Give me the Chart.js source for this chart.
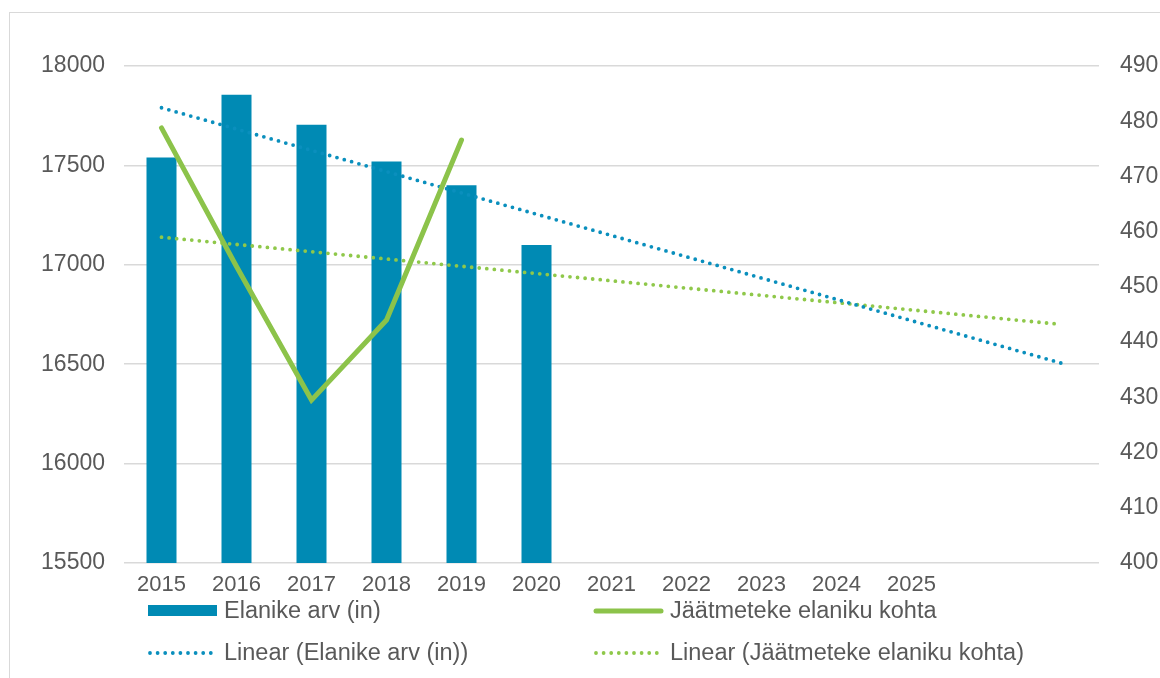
<!DOCTYPE html>
<html>
<head>
<meta charset="utf-8">
<script src="https://cdn.jsdelivr.net/npm/chart.js@4"></script>
<style>
  html, body { margin: 0; padding: 0; background: #fff; }
  #frame { position: absolute; left: 9px; top: 12px; width: 1200px; height: 720px; border: 1px solid #d9d9d9; }
  #wrap { position: absolute; left: 0; top: 0; width: 1160px; height: 678px; }
</style>
</head>
<body>
<div id="frame"></div>
<div id="wrap"><canvas id="chart" width="1160" height="678"></canvas></div>
<script>
  // Years on the category axis (two trailing blank slots for the trend forecast)
  const years = ["2015", "2016", "2017", "2018", "2019", "2020", "2021", "2022", "2023", "2024", "2025", "", ""];
  // Elanike arv (in) — left axis
  const population = [17540, 17855, 17705, 17520, 17400, 17100];
  // Jäätmeteke elaniku kohta — right axis
  const wastePerCapita = [478.8, 453.7, 429.5, 444.0, 476.6];
  // Linear trend end points (first and last category)
  const popTrend = [17790, null, null, null, null, null, null, null, null, null, null, null, 16505];
  const wasteTrend = [459.0, null, null, null, null, null, null, null, null, null, null, null, 443.2];

  const leftTicks = { min: 15500, max: 18000, step: 500 };
  const rightTicks = { min: 400, max: 490, step: 10 };

  const COLORS = {
    bar: "#008ab4",
    line: "#8cc34a",
    popTrend: "#0a8fbd",
    wasteTrend: "#8fc84a",
    grid: "#d9d9d9",
    text: "#595959",
  };
  const FONT = "'Liberation Sans', Arial, sans-serif";

  // Two-column legend drawn under the plot
  const gridLegend = {
    id: "gridLegend",
    afterDraw(chart) {
      const { ctx } = chart;
      const ds = chart.data.datasets;
      const slots = [
        { i: 0, x: 148, y: 611 },
        { i: 1, x: 594, y: 611 },
        { i: 2, x: 148, y: 653 },
        { i: 3, x: 594, y: 653 },
      ];
      ctx.save();
      ctx.font = "23.5px " + FONT;
      ctx.textBaseline = "middle";
      slots.forEach((s) => {
        const d = ds[s.i];
        const w = 69;
        if (d.type === "bar") {
          ctx.fillStyle = d.backgroundColor;
          ctx.fillRect(s.x, s.y - 6, w, 11);
        } else {
          ctx.beginPath();
          ctx.strokeStyle = d.borderColor;
          ctx.lineWidth = d.borderWidth;
          ctx.lineCap = "round";
          ctx.setLineDash(d.borderDash || []);
          ctx.moveTo(s.x + 2, s.y);
          ctx.lineTo(s.x + w - 2, s.y);
          ctx.stroke();
          ctx.setLineDash([]);
        }
        ctx.fillStyle = COLORS.text;
        ctx.textAlign = "left";
        ctx.fillText(d.label, s.x + w + 7, s.y + 1);
      });
      ctx.restore();
    },
  };

  const plain = (v) => String(v);

  new Chart(document.getElementById("chart").getContext("2d"), {
    data: {
      labels: years,
      datasets: [
        {
          type: "bar",
          label: "Elanike arv (in)",
          data: population,
          backgroundColor: COLORS.bar,
          yAxisID: "y",
          categoryPercentage: 1,
          barPercentage: 0.4,
          order: 4,
        },
        {
          type: "line",
          label: "Jäätmeteke elaniku kohta",
          data: wastePerCapita,
          borderColor: COLORS.line,
          borderWidth: 5,
          borderCapStyle: "round",
          borderJoinStyle: "miter",
          pointRadius: 0,
          tension: 0,
          yAxisID: "y1",
          order: 1,
        },
        {
          type: "line",
          label: "Linear (Elanike arv (in))",
          data: popTrend,
          borderColor: COLORS.popTrend,
          borderWidth: 3.8,
          borderDash: [0, 7.6],
          borderCapStyle: "round",
          pointRadius: 0,
          spanGaps: true,
          yAxisID: "y",
          order: 2,
        },
        {
          type: "line",
          label: "Linear (Jäätmeteke elaniku kohta)",
          data: wasteTrend,
          borderColor: COLORS.wasteTrend,
          borderWidth: 3.8,
          borderDash: [0, 7.6],
          borderCapStyle: "round",
          pointRadius: 0,
          spanGaps: true,
          yAxisID: "y1",
          order: 3,
        },
      ],
    },
    options: {
      responsive: false,
      animation: false,
      layout: { padding: { top: 66, bottom: 78, left: 0, right: 0 } },
      plugins: { legend: { display: false }, tooltip: { enabled: false } },
      scales: {
        x: {
          grid: { display: false, drawTicks: false },
          border: { display: false },
          ticks: { color: COLORS.text, font: { family: FONT, size: 22 }, maxRotation: 0, autoSkip: false, padding: 9 },
          afterFit: (s) => { s.height = 37; },
        },
        y: {
          position: "left",
          min: leftTicks.min,
          max: leftTicks.max,
          grid: { color: COLORS.grid, lineWidth: 1.5, drawTicks: false },
          border: { display: false },
          ticks: { stepSize: leftTicks.step, callback: plain, color: COLORS.text, font: { family: FONT, size: 23 }, padding: 19 },
          afterFit: (s) => { s.width = 124; },
        },
        y1: {
          position: "right",
          min: rightTicks.min,
          max: rightTicks.max,
          grid: { display: false, drawTicks: false },
          border: { display: false },
          ticks: { stepSize: rightTicks.step, callback: plain, color: COLORS.text, font: { family: FONT, size: 23 }, padding: 21 },
          afterFit: (s) => { s.width = 61; },
        },
      },
    },
    plugins: [gridLegend],
  });
</script>
</body>
</html>
